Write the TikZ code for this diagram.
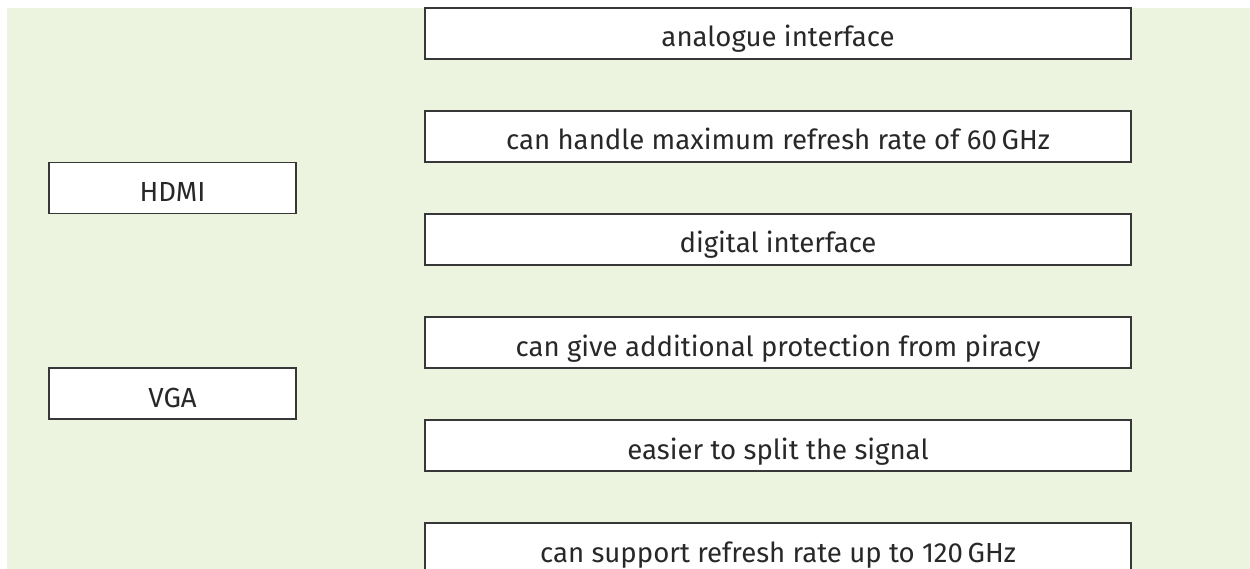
\documentclass[tikz,border=0pt]{standalone}
\usepackage{fontspec}
\setmainfont{Fira Sans}
\begin{document}
\begin{tikzpicture}[x=1pt,y=-1pt,
  panel/.style={draw=boxline,line width=1.4pt,fill=white,text=labeltext,
    minimum width=706pt,minimum height=51pt,inner sep=0pt,
    text height=27pt,text depth=0pt,
    font=\fontsize{27.6}{32}\selectfont},
  term/.style={panel,minimum width=247pt}]
\definecolor{boxline}{RGB}{55,55,55}
\definecolor{labeltext}{RGB}{40,40,40}
\definecolor{sheet}{RGB}{236,243,222}
\useasboundingbox (0,0) rectangle (1250,569);
\begin{scope}
\clip (0,0) rectangle (1250,569);
\fill[white] (0,0) rectangle (1250,569);
\fill[sheet] (7,8) rectangle (1250,569);

% terms on the left
\node[term] (hdmi) at (172.5,188) {HDMI};
\node[term] (vga)  at (172.5,393.5) {VGA};

% statements on the right
\node[panel] (s1) at (778,33.5)  {analogue interface};
\node[panel] (s2) at (778,136.5) {can handle maximum refresh rate of 60\,GHz};
\node[panel] (s3) at (778,239.5) {digital interface};
\node[panel] (s4) at (778,342.5) {can give additional protection from piracy};
\node[panel] (s5) at (778,445.5) {easier to split the signal};
\node[panel] (s6) at (778,548.5) {can support refresh rate up to 120\,GHz};
\end{scope}
\end{tikzpicture}
\end{document}
